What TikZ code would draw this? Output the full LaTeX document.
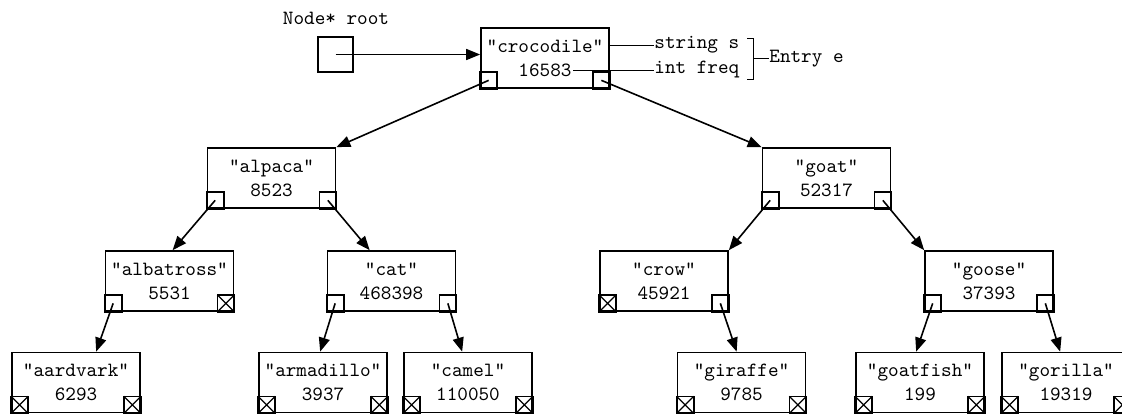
\documentclass[tikz,border=0pt]{standalone}
\usetikzlibrary{arrows.meta,calc}
\begin{document}
\begin{tikzpicture}[x=0.5pt,y=-0.5pt, font=\ttfamily\fontsize{10.1}{12}\selectfont,
  entry/.style={draw, line width=0.85pt, minimum width=64pt, minimum height=30pt, inner sep=0pt, align=center},
  ptr/.style={line width=0.8pt, -{Triangle[length=7pt,width=5.5pt]}},
  lead/.style={line width=0.5pt},
  cell/.style={draw, line width=0.85pt},
  lbl/.style={inner sep=0pt}]
\useasboundingbox (0,0) rectangle (1122,413);
\newcommand\lcell[1]{\draw[cell] (#1.south west) rectangle ++(17,-17);
  \coordinate (#1L) at ($(#1.south west)+(8.5,-8.5)$);}
\newcommand\rcell[1]{\draw[cell] (#1.south east) rectangle ++(-17,-17);
  \coordinate (#1R) at ($(#1.south east)+(-8.5,-8.5)$);}
\newcommand\lnull[1]{\lcell{#1}\draw[line width=0.6pt] (#1.south west) -- ++(17,-17) ($(#1.south west)+(0,-17)$) -- ++(17,17);}
\newcommand\rnull[1]{\rcell{#1}\draw[line width=0.6pt] (#1.south east) -- ++(-17,-17) ($(#1.south east)+(0,-17)$) -- ++(-17,17);}

% nodes
\node[entry] (croc) at (545,58) {"crocodile"\\16583};
\node[entry] (alpaca) at (271.5,178) {"alpaca"\\8523};
\node[entry] (goat) at (826.5,178) {"goat"\\52317};
\node[entry] (alb) at (169.5,281) {"albatross"\\5531};
\node[entry] (cat) at (391.5,281) {"cat"\\468398};
\node[entry] (crow) at (664,281) {"crow"\\45921};
\node[entry] (goose) at (989,281) {"goose"\\37393};
\node[entry] (aard) at (76,382.5) {"aardvark"\\6293};
\node[entry] (arma) at (323,382.5) {"armadillo"\\3937};
\node[entry] (camel) at (468,382.5) {"camel"\\110050};
\node[entry] (giraffe) at (741.5,382.5) {"giraffe"\\9785};
\node[entry] (goatfish) at (920,382.5) {"goatfish"\\199};
\node[entry] (gorilla) at (1066,382.5) {"gorilla"\\19319};

% cells
\lcell{croc}\rcell{croc}
\lcell{alpaca}\rcell{alpaca}
\lcell{goat}\rcell{goat}
\lcell{alb}\rnull{alb}
\lcell{cat}\rcell{cat}
\lnull{crow}\rcell{crow}
\lcell{goose}\rcell{goose}
\lnull{aard}\rnull{aard}
\lnull{arma}\rnull{arma}
\lnull{camel}\rnull{camel}
\lnull{giraffe}\rnull{giraffe}
\lnull{goatfish}\rnull{goatfish}
\lnull{gorilla}\rnull{gorilla}

% root pointer
\node[draw, line width=0.85pt, minimum size=17.5pt, inner sep=0pt] (root) at (335.5,54.5) {};
\node[lbl] (rootlbl) at (336,18) {Node* root};
\draw[ptr] (root.center) -- (root.center -| croc.west);

% child pointers
\draw[ptr] (crocL) -- (alpaca.north east);
\draw[ptr] (crocR) -- (goat.north west);
\draw[ptr] (alpacaL) -- ($(alb.north west)+(68,0)$);
\draw[ptr] (alpacaR) -- ($(cat.north west)+(43,0)$);
\draw[ptr] (goatL) -- (crow.north east);
\draw[ptr] (goatR) -- (goose.north west);
\draw[ptr] (albL) -- ($(aard.north west)+(85,0)$);
\draw[ptr] (catL) -- ($(arma.north west)+(62,0)$);
\draw[ptr] (catR) -- ($(camel.north west)+(59,0)$);
\draw[ptr] (crowR) -- ($(giraffe.north west)+(60,0)$);
\draw[ptr] (gooseL) -- ($(goatfish.north west)+(61,0)$);
\draw[ptr] (gooseR) -- ($(gorilla.north west)+(59,0)$);

% field labels
\node[lbl, anchor=west] (ss) at (654,45) {string s};
\node[lbl, anchor=west] (ifq) at (654,70) {int freq};
\coordinate (numend) at ($(croc.center)+(28,12)$);
\draw[lead] (croc.east |- ss.west) -- (ss.west);
\draw[lead] (numend) -- (ifq.west);
\coordinate (brtop) at (753,38);
\coordinate (brbot) at (753,79);
\node[lbl, anchor=west] (entry) at (769,58.5) {Entry e};
\draw[lead] ($(brtop)+(-6,0)$) -- (brtop) -- (brbot) -- ($(brbot)+(-6,0)$);
\draw[lead] (brtop |- entry.west) -- (entry.west);
\end{tikzpicture}
\end{document}
